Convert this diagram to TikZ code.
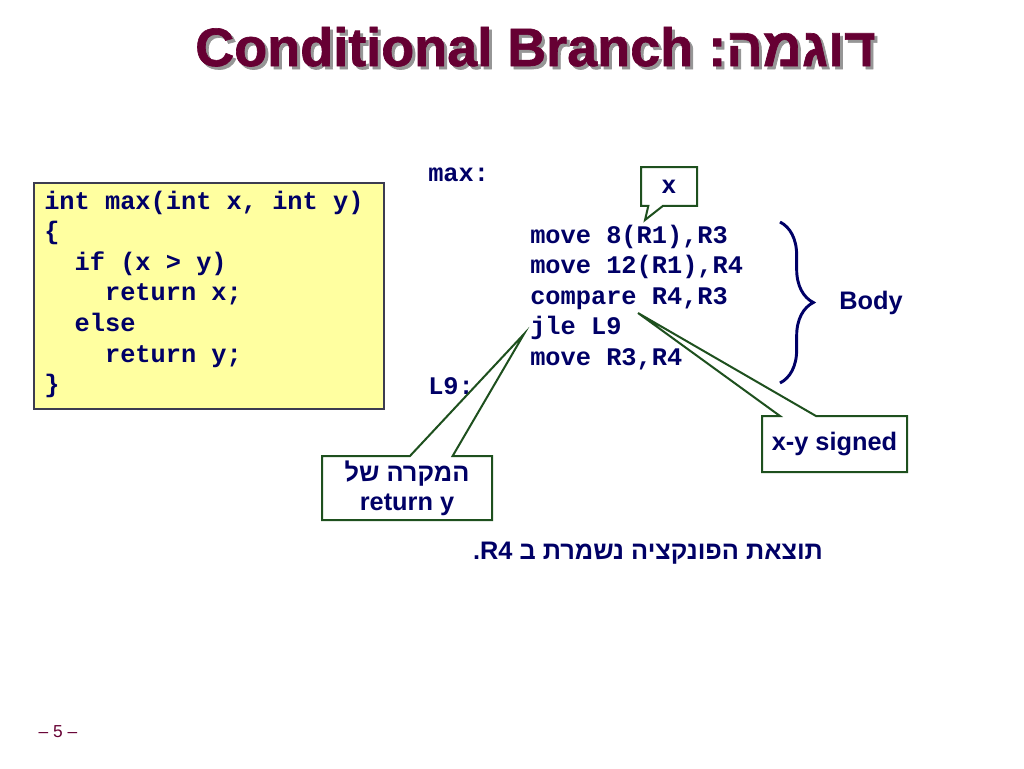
\documentclass[tikz,border=0pt]{standalone}
\usepackage{fontspec}
\setmainfont{Liberation Sans}
\newfontfamily\codefont{Liberation Mono}
\newfontfamily\hebfont[Script=Hebrew]{Liberation Sans}
\newfontfamily\titlefont[FakeBold=1.2]{Liberation Sans Bold}
\newfontfamily\titlehebfont[Script=Hebrew, FakeBold=1.2]{Liberation Sans Bold}
\usetikzlibrary{shapes.callouts,decorations.pathreplacing}
\TeXXeTstate=1
\definecolor{titlered}{RGB}{102,0,51}
\definecolor{codeblue}{RGB}{0,0,102}
\definecolor{notegreen}{RGB}{30,80,30}
\definecolor{codeyellow}{RGB}{255,255,160}
\definecolor{boxgray}{RGB}{60,60,80}
\definecolor{shadowgray}{RGB}{150,150,150}
\newcommand\titletext{Conditional Branch {\titlehebfont\beginR דוגמה:\endR}}
\tikzset{
  titlestyle/.style={anchor=base west, inner sep=0pt, font=\titlefont\fontsize{40.5}{48}\selectfont},
  codeline/.style={anchor=base west, inner sep=0pt, text=codeblue, font=\codefont\bfseries\fontsize{19}{23}\selectfont},
  codebox/.style={draw=boxgray, line width=1.5pt, fill=codeyellow},
  note/.style={rectangle callout, draw=notegreen, line width=1.5pt, fill=white, text=codeblue,
    font=\bfseries\fontsize{19}{22}\selectfont, align=center, inner sep=0pt},
  label/.style={text=codeblue, font=\bfseries\fontsize{19}{22}\selectfont},
}

\begin{document}
\begin{tikzpicture}[x=0.75pt, y=-0.75pt]
	\useasboundingbox (0,0) rectangle (1024,768);
	% title
	\node[titlestyle, text=shadowgray] (shadow) at (198,69) {\titletext};
	\node[titlestyle, text=titlered] (title) at (195,66) {\titletext};
	% C code
	\node[codebox, minimum width=262.5pt, minimum height=169.5pt] (cbox) at (209,296) {};
	\foreach \codetext [count=\i from 0] in {{int max(int x, int y)}, {\{}, {\ \ if (x > y)},
			{\ \ \ \ return x;}, {\ \ else}, {\ \ \ \ return y;}, {\}}}
		\node[codeline] (c\i) at (44,209+30.6*\i) {\codetext};
	% assembly
	\node[codeline] (lmax) at (428,181) {max:};
	\foreach \asmtext [count=\i from 0] in {{move 8(R1),R3}, {move 12(R1),R4}, {compare R4,R3},
			{jle L9}, {move R3,R4}}
		\node[codeline] (a\i) at (530,243+30.6*\i) {\asmtext};
	\node[codeline] (lnine) at (428,394) {L9:};
	% callouts
	\coordinate (xtip) at (645,220);
	\coordinate (cmptip) at (638,313);
	\coordinate (jletip) at (524,334);
	\node[note, minimum width=42pt, minimum height=29pt, callout absolute pointer={(xtip)},
		callout pointer width=11pt] (xnote) at (669,186.5) {x};
	\node[note, minimum width=108.75pt, minimum height=42pt, callout absolute pointer={(cmptip)},
		callout pointer width=27pt] (signed) at (834.5,444) {x-y signed};
	\node[note, minimum width=127.5pt, minimum height=48pt, callout absolute pointer={(jletip)},
		callout pointer width=32pt] (retnote) at (407,488) {{\hebfont\beginR המקרה של\endR}\\return y};
	% body brace
	\coordinate (bracetop) at (780,222);
	\coordinate (bracebot) at (780,383);
	\draw[codeblue, line width=2.2pt, decorate, decoration={brace, amplitude=25pt}] (bracetop) -- (bracebot);
	\node[label] (body) at (871,303) {Body};
	% result and page number
	\node[label] (result) at (648,553) {\hebfont\beginR תוצאת הפונקציה נשמרת ב \beginL R4\endL.\endR};
	\node[text=titlered, font=\fontsize{13}{15}\selectfont] (page) at (58,732) {\textendash\ 5 \textendash};
\end{tikzpicture}
\end{document}
